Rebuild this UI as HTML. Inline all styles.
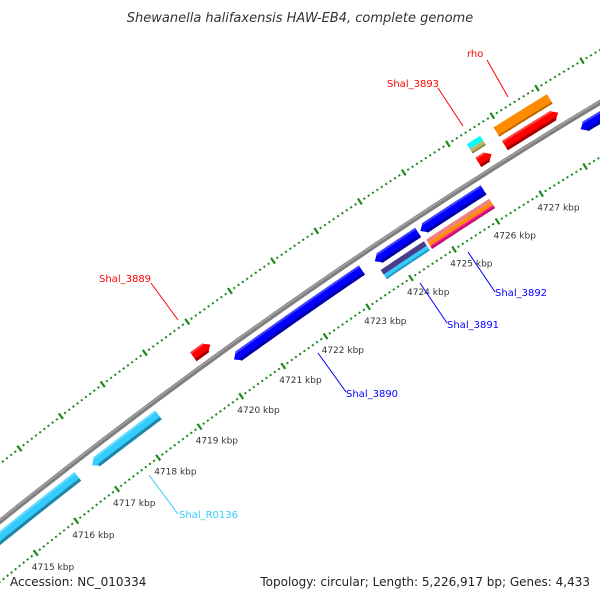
<!DOCTYPE html>
<html><head><meta charset="utf-8"><style>
html,body{margin:0;padding:0;background:#fff}
svg{display:block;font-family:"DejaVu Sans","Liberation Sans",sans-serif}
</style></head><body>
<svg id="chart" width="600" height="600" viewBox="0 0 600 600" xmlns="http://www.w3.org/2000/svg">
<rect width="600" height="600" fill="#fff"/>
<g id="rings"></g>
<g id="backbone"></g>
<g id="feats"></g>
<g id="ticklabels"></g>
<g font-size="10">
<line x1="487" y1="60" x2="508" y2="97" stroke="#f00" stroke-width="1"/>
<text x="467" y="57" fill="#f00">rho</text>
<line x1="438" y1="88" x2="463" y2="126" stroke="#f00" stroke-width="1"/>
<text x="387" y="87" fill="#f00">Shal_3893</text>
<line x1="151" y1="283" x2="178" y2="320" stroke="#f00" stroke-width="1"/>
<text x="99" y="282" fill="#f00">Shal_3889</text>
<line x1="318" y1="353" x2="346" y2="392" stroke="#00f" stroke-width="1"/>
<text x="346" y="397" fill="#00f">Shal_3890</text>
<line x1="420" y1="283" x2="447" y2="323" stroke="#00f" stroke-width="1"/>
<text x="447" y="328" fill="#00f">Shal_3891</text>
<line x1="468" y1="252" x2="495" y2="292" stroke="#00f" stroke-width="1"/>
<text x="495" y="296" fill="#00f">Shal_3892</text>
<line x1="149" y1="475" x2="178" y2="514" stroke="#33ccff" stroke-width="1"/>
<text x="179" y="518" fill="#33ccff">Shal_R0136</text>
</g>
<text x="300" y="22" text-anchor="middle" font-size="13" font-style="italic" fill="#333">Shewanella halifaxensis HAW-EB4, complete genome</text>
<text x="10" y="586" font-size="12" fill="#222">Accession: NC_010334</text>
<text x="590" y="586" font-size="12" fill="#222" text-anchor="end">Topology: circular; Length: 5,226,917 bp; Genes: 4,433</text>
</svg>
<script>
// ---- data ----
const tickKbp = [4714,4715,4716,4717,4718,4719,4720,4721,4722,4723,4724,4725,4726,4727,4728,4729];
const labeledTicks = [4715,4716,4717,4718,4719,4720,4721,4722,4723,4724,4725,4726,4727];
const geneNames = ["Shal_R0135","Shal_R0136","Shal_3889","Shal_3890","Shal_3891","Shal_3892","Shal_3893","rho","next"];
const geneStart = [4713.5,4716.9,4719.7,4720.3,4723.6,4724.65,4726.3,4726.9,4728.3];
const geneEnd   = [4716.55,4718.5,4720.1,4723.3,4724.6,4726.1,4726.6,4728.1,4730.5];
const geneStrand= [-1,-1,1,-1,-1,-1,1,1,-1];
const geneColor = ["#33ccff","#33ccff","#ff0000","#0000ff","#0000ff","#0000ff","#ff0000","#ff0000","#0000ff"];
const cogStart  = [4723.6,4724.65,4726.3,4726.9];
const cogEnd    = [4724.6,4726.1,4726.6,4728.1];
const cogStrand = [-1,-1,1,1];
const cogColors = [["#483d8b","#33ccff"],["#f08080","#ff8c00","#ff1493"],["#00ffff","#bdb76b"],["#ff8c00"]];

// ---- axis ----
const NS="http://www.w3.org/2000/svg";
const cx=3385, cy=4730, RG=5401, RL=5354, RU=5446;
const th0=Math.atan2(552-cy,35-cx), dk=0.009657;
function P(k,r){const t=th0+(k-4715)*dk;return [cx+r*Math.cos(t),cy+r*Math.sin(t)];}
function mk(tag,attrs,parent){const e=document.createElementNS(NS,tag);for(const a in attrs)e.setAttribute(a,attrs[a]);parent.appendChild(e);return e;}
function shade(hex,f){const n=parseInt(hex.slice(1),16);let r=n>>16,g=(n>>8)&255,b=n&255;
 if(f<1){r*=f;g*=f;b*=f;}else{r=r+(255-r)*(f-1);g=g+(255-g)*(f-1);b=b+(255-b)*(f-1);}
 return "rgb("+Math.round(r)+","+Math.round(g)+","+Math.round(b)+")";}
function bandPts(k1,k2,r0,r1,tip){const tl=0.12,pts=[],n=30;
 let a=k1,b=k2; if(tip==="end")b=k2-tl; if(tip==="start")a=k1+tl;
 if(tip==="start")pts.push(P(k1,(r0+r1)/2));
 for(let i=0;i<=n;i++)pts.push(P(a+(b-a)*i/n,r1));
 if(tip==="end")pts.push(P(k2,(r0+r1)/2));
 for(let i=n;i>=0;i--)pts.push(P(a+(b-a)*i/n,r0));
 return pts.map(p=>p[0].toFixed(1)+","+p[1].toFixed(1)).join(" ");}

// rings
const rings=document.getElementById('rings');
[RL,RU].forEach((R,ri)=>{
 for(let k=4713;k<=4730.001;k+=0.1){
  const kk=Math.round(k*10)/10, major=Math.abs(kk-Math.round(kk))<1e-6;
  const p1=P(kk,R-(major?3.5:1)), p2=P(kk,R+(major?3.5:1));
  const l=mk('line',{x1:p1[0],y1:p1[1],x2:p2[0],y2:p2[1],stroke:"#1a8a1a","stroke-width":major?2.2:2},rings);
  
  
 }
});
// backbone
const bb=document.getElementById('backbone');
function arcPath(r,k1,k2){let d="";for(let i=0;i<=60;i++){const p=P(k1+(k2-k1)*i/60,r);d+=(i?"L":"M")+p[0].toFixed(1)+" "+p[1].toFixed(1);}return d;}
const bl=mk('path',{d:arcPath(RG,4712,4731),stroke:"#7f7f7f","stroke-width":5,fill:"none"},bb);


const bh=mk('path',{d:arcPath(RG+1,4712,4731),stroke:"#a8a8a8","stroke-width":1.2,fill:"none"},bb);



// features
const feats=document.getElementById('feats');
const H=11;
for(let i=0;i<geneNames.length;i++){
 const s=geneStrand[i], c=s>0?RG+13:RG-13, r0=c-H/2, r1=c+H/2;
 const tip=s>0?"end":"start";
 const g=mk('polygon',{points:bandPts(geneStart[i],geneEnd[i],r0,r1,tip),fill:geneColor[i]},feats);
 
 
 const sh=mk('polygon',{points:bandPts(geneStart[i]+(s<0?0.1:0),geneEnd[i]-(s>0?0.1:0),r0,r0+3,null),fill:shade(geneColor[i],0.65)},feats);
 
 
 const hl=mk('polygon',{points:bandPts(geneStart[i]+(s<0?0.1:0),geneEnd[i]-(s>0?0.1:0),r1-2,r1,null),fill:shade(geneColor[i],1.25)},feats);
 
 
}
for(let i=0;i<cogStart.length;i++){
 const s=cogStrand[i], c=s>0?RG+29:RG-29, top=c+H/2, cols=cogColors[i], h=H/cols.length;
 cols.forEach((col,j)=>{
  const r1=top-j*h, r0=r1-h;
  const b=mk('polygon',{points:bandPts(cogStart[i],cogEnd[i],r0,r1,null),fill:col},feats);
  
  
 });
 const sh=mk('polygon',{points:bandPts(cogStart[i],cogEnd[i],top-H,top-H+2,null),fill:"rgba(0,0,0,0.25)"},feats);
 
 
}
// tick labels
const tlg=document.getElementById('ticklabels');
labeledTicks.forEach(k=>{
 const p=P(k,RL);
 const t=mk('text',{x:(p[0]-4).toFixed(1),y:(p[1]+17).toFixed(1),"font-size":"9",fill:"#333"},tlg);
 t.textContent=k+" kbp";
 
 
});
</script>
</body></html>
